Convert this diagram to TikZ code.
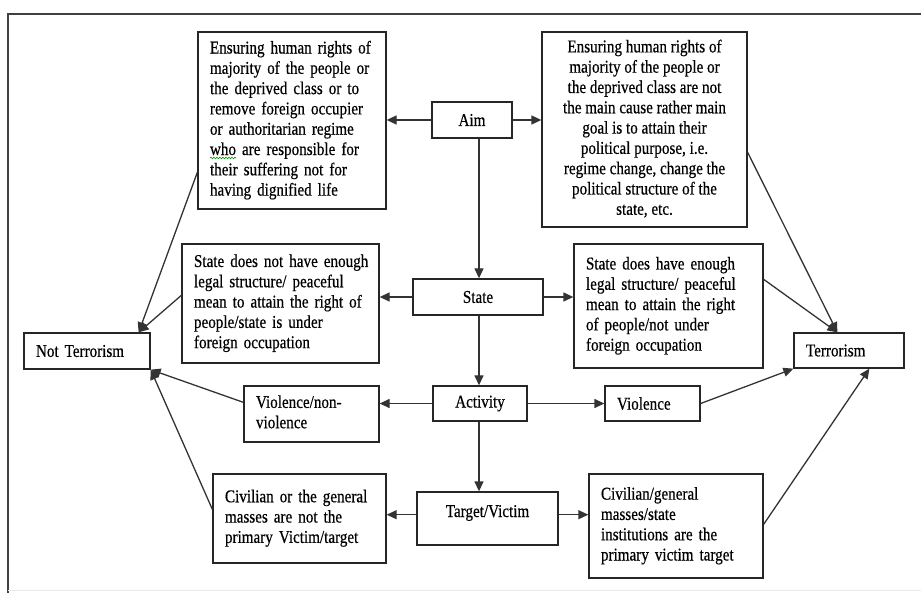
\documentclass[tikz,border=0pt]{standalone}
\usepackage{fontspec}
\setmainfont{Liberation Serif}[FakeStretch=0.84,FakeBold=0.5]
\usetikzlibrary{arrows.meta,decorations.pathmorphing,calc}
\newcommand\lns[1]{\begin{tabular}{@{}l@{}}#1\end{tabular}}
\newcommand\clns[1]{\begin{tabular}{@{}c@{}}#1\end{tabular}}
\begin{document}
\begin{tikzpicture}[x=1pt,y=-1pt,
  box/.style={draw=black!85, line width=1.3pt, fill=white,
    font=\fontsize{18}{20.3}\selectfont, inner ysep=0pt},
  lbox/.style={box, align=left, inner xsep=12pt},
  cbox/.style={box, align=center, inner xsep=0pt},
  arr/.style={draw=black!80, line width=1.3pt, -{Triangle[length=10pt,width=9pt]}}]
\useasboundingbox (0,0) rectangle (921,593);
% frame
\draw[line width=1.3pt, black!75] (8,593) -- (8,14) -- (921,14);
\draw[line width=1pt, black!8] (8,590) -- (921,590);
% nodes
\node[lbox, text width=164pt, minimum height=177pt] (a1) at (292,120.5)
  {\lns{Ensuring human rights of\\majority of the people or\\the deprived class or to\\remove foreign occupier\\or authoritarian regime\\who are responsible for\\their suffering not for\\having dignified life}};
\node[cbox, minimum width=80pt, minimum height=36pt] (aim) at (472,120) {Aim};
\node[cbox, minimum width=205pt, minimum height=195pt] (a2) at (644.5,129.5)
  {\clns{Ensuring human rights of\\majority of the people or\\the deprived class are not\\the main cause rather main\\goal is to attain their\\political purpose, i.e.\\regime change, change the\\political structure of the\\state, etc.}};
\node[lbox, text width=173pt, minimum height=119pt] (s1) at (280.5,303.5)
  {\lns{State does not have enough\\legal structure/ peaceful\\mean to attain the right of\\people/state is under\\foreign occupation}};
\node[cbox, minimum width=130pt, minimum height=36pt] (state) at (478,297) {State};
\node[lbox, text width=165pt, minimum height=124pt] (s2) at (668.5,306)
  {\lns{State does have enough\\legal structure/ peaceful\\mean to attain the right\\of people/not under\\foreign occupation}};
\node[lbox, text width=102pt, minimum height=36pt] (nt) at (87,351) {Not Terrorism};
\node[lbox, text width=86pt, minimum height=35pt] (t) at (849,350.5) {Terrorism};
\node[lbox, text width=111pt, minimum height=56pt] (vnv) at (311.5,414)
  {\lns{Violence/non-\\violence}};
\node[cbox, minimum width=94pt, minimum height=35pt] (act) at (480,403.5) {Activity};
\node[lbox, text width=71pt, minimum height=35pt] (vio) at (652.5,403.5) {Violence};
\node[lbox, text width=149pt, minimum height=89pt] (c1) at (299.5,518.5)
  {\lns{Civilian or the general\\masses are not the\\primary Victim/target}};
\node[cbox, minimum width=141pt, text height=25pt, text depth=28pt] (tv) at (487.5,518.5) {Target/Victim};
\node[lbox, text width=150pt, minimum height=104pt] (c2) at (676,526)
  {\lns{Civilian/general\\masses/state\\institutions are the\\primary victim target}};
% grammar squiggle under "who"
\draw[green!60!black, line width=0.6pt, decorate,
  decoration={snake, amplitude=0.8pt, segment length=3pt}] (210,158) -- (236,158);
% vertical spine
\coordinate (vx) at (479,0);
\draw[arr] (aim.south -| vx) -- (state.north -| vx);
\draw[arr] (state.south -| vx) -- (act.north -| vx);
\draw[arr] (act.south -| vx) -- (tv.north -| vx);
% horizontal arrows
\draw[arr] (aim.west) -- (aim.west -| a1.east);
\draw[arr] (aim.east) -- (aim.east -| a2.west);
\draw[arr] (state.west) -- (state.west -| s1.east);
\draw[arr] (state.east) -- (state.east -| s2.west);
\draw[arr] (act.west) -- (act.west -| vnv.east);
\draw[arr] (act.east) -- (act.east -| vio.west);
\draw[arr] (tv.mid west) -- (tv.mid west -| c1.east);
\draw[arr] (tv.mid east) -- (tv.mid east -| c2.west);
% to Not Terrorism
\draw[arr] ($(a1.north west)+(0,141)$) -- ($(nt.north east)+(-12,0)$);
\draw[arr] ($(s1.north west)+(0,52)$) -- ($(nt.north east)+(-12,0)$);
\draw[arr] ($(vnv.north west)+(0,17)$) -- (nt.south east);
\draw[arr] ($(c1.north west)+(0,36)$) -- (nt.south east);
% to Terrorism
\draw[arr] ($(a2.north east)+(0,121)$) -- ($(t.north west)+(44,0)$);
\draw[arr] ($(s2.north east)+(0,36)$) -- ($(t.north west)+(44,0)$);
\draw[arr] (vio.east) -- (t.south west);
\draw[arr] ($(c2.north east)+(0,51)$) -- ($(t.south west)+(76,0)$);
\end{tikzpicture}
\end{document}
